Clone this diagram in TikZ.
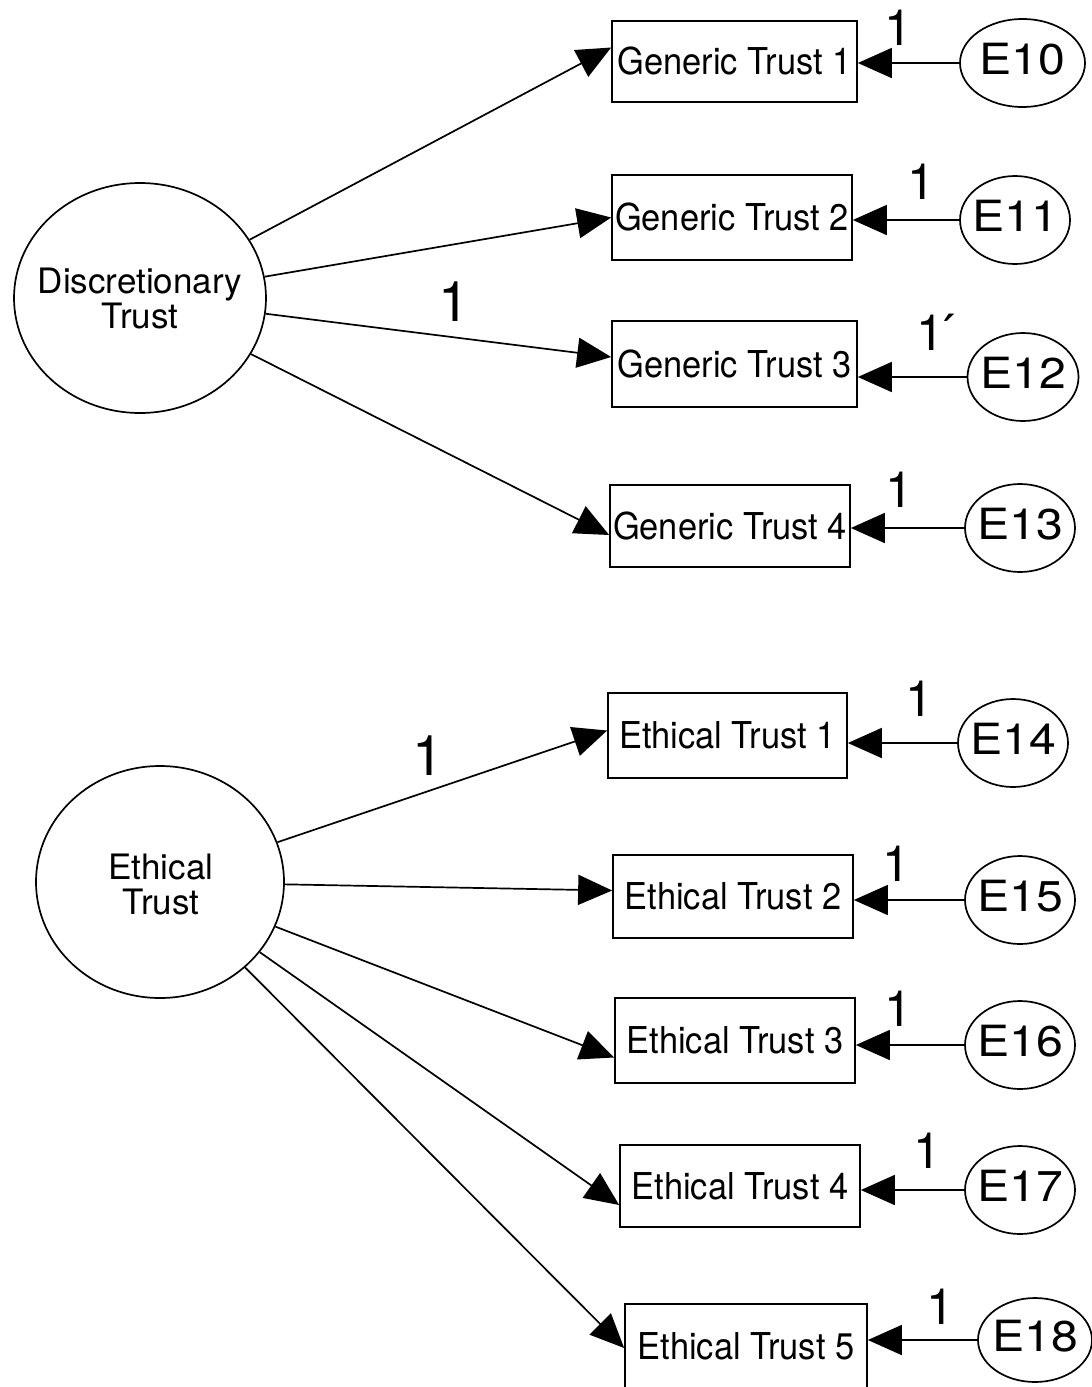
\documentclass[tikz,border=0pt]{standalone}
\usepackage{fontspec}
\usepackage{graphicx}
\setmainfont{TeX Gyre Heros}
\usetikzlibrary{shapes.geometric,arrows.meta}

% narrow and wide text for the indicator boxes and error terms
\newcommand\obstext[1]{\scalebox{0.93}[1]{#1}}
\newcommand\errtext[1]{\scalebox{1.12}[1]{#1}}

\tikzset{
  latent/.style={draw, ellipse, line width=1.7pt, inner sep=0pt},
  lattext/.style={align=center, inner sep=0pt, font=\fontsize{35}{35}\selectfont},
  obs/.style={draw, rectangle, line width=1.7pt, inner sep=0pt,
    minimum width=242pt, minimum height=84pt, font=\fontsize{37}{40}\selectfont},
  err/.style={draw, ellipse, line width=1.7pt, inner sep=0pt,
    minimum width=110pt, minimum height=88pt},
  errlab/.style={inner sep=0pt, yshift=4pt, font=\fontsize{43}{44}\selectfont},
  load/.style={line width=1.7pt, -{Triangle[length=34pt,width=30pt]}},
  one/.style={font=\fontsize{50}{52}\selectfont, inner sep=0pt},
  bigone/.style={font=\fontsize{56}{58}\selectfont, inner sep=0pt},
}

\begin{document}
\begin{tikzpicture}[x=1pt,y=-1pt]
\useasboundingbox (0,0) rectangle (1092,1387);

% latent factors
\node[latent, minimum width=252pt, minimum height=230pt] (dt) at (140,298) {};
\node[lattext] (dtname) at (dt.center) {Discretionary\\Trust};
\node[latent, minimum width=248pt, minimum height=232pt] (et) at (160,882) {};
\node[lattext] (etname) at ([xshift=1pt,yshift=-2pt]et.center) {Ethical\\Trust};

% indicators
\node[obs, minimum width=245pt, minimum height=81pt] (gt1) at (734.5,61.5) {\obstext{Generic Trust 1}};
\node[obs, minimum width=240pt, minimum height=85pt] (gt2) at (732,217.5) {\obstext{Generic Trust 2}};
\node[obs, minimum width=245pt, minimum height=86pt] (gt3) at (734.5,364) {\obstext{Generic Trust 3}};
\node[obs, minimum width=240pt, minimum height=82pt] (gt4) at (730,526) {\obstext{Generic Trust 4}};
\node[obs, minimum width=239pt, minimum height=85pt] (et1) at (727.5,735.5) {\obstext{Ethical Trust 1}};
\node[obs, minimum width=240pt, minimum height=83pt] (et2) at (733,896.5) {\obstext{Ethical Trust 2}};
\node[obs, minimum width=240pt, minimum height=85pt] (et3) at (735,1040.5) {\obstext{Ethical Trust 3}};
\node[obs, minimum width=240pt, minimum height=82pt] (et4) at (740,1186) {\obstext{Ethical Trust 4}};
\node[obs, minimum width=242pt, minimum height=84pt] (et5) at (746,1346) {\obstext{Ethical Trust 5}};

% error terms
\node[err, minimum width=125pt, label={[errlab]center:\errtext{E10}}] (e10) at (1022.5,63) {};
\node[err, label={[errlab]center:\errtext{E11}}] (e11) at (1015,220) {};
\node[err, minimum width=111pt, label={[errlab]center:\errtext{E12}}] (e12) at (1023,377) {};
\node[err, label={[errlab]center:\errtext{E13}}] (e13) at (1020,528) {};
\node[err, label={[errlab]center:\errtext{E14}}] (e14) at (1013,743) {};
\node[err, label={[errlab]center:\errtext{E15}}] (e15) at (1020,900) {};
\node[err, label={[errlab]center:\errtext{E16}}] (e16) at (1020,1045) {};
\node[err, label={[errlab]center:\errtext{E17}}] (e17) at (1020,1190) {};
\node[err, minimum width=114pt, minimum height=84pt, label={[errlab]center:\errtext{E18}}] (e18) at (1035,1340) {};

% factor loadings
\draw[load] (dt) -- ([yshift=14pt]gt1.west);
\draw[load] (dt) -- (gt2.west);
\draw[load] (dt) -- ([yshift=7pt]gt3.west);
\draw[load] (dt) -- ([yshift=-9pt]gt4.west);
\draw[load] (et) -- ([yshift=5pt]et1.west);
\draw[load] (et) -- ([yshift=6pt]et2.west);
\draw[load] (et) -- ([yshift=-17pt]et3.west);
\draw[load] (et) -- ([yshift=-19pt]et4.west);
\draw[load] (et) -- ([yshift=-2pt]et5.west);

% error paths
\foreach \e/\b in {e10/gt1,e11/gt2,e12/gt3,e13/gt4,e14/et1,e15/et2,e16/et3,e17/et4,e18/et5}
  \draw[load] (\e.west) -- (\b.east |- \e.west);

% fixed coefficients
\node[bigone] (f1) at (454,302) {1};
\node[bigone] (f2) at (428,756) {1};
\node[one] (w10) at (898,28) {1};
\node[one] (w11) at (921,182) {1};
\node[one] (w12) at (930,332) {1\rlap{\kern-6pt\textasciiacute}};
\node[one] (w13) at (899,490) {1};
\node[one] (w14) at (919,699) {1};
\node[one] (w15) at (896,864) {1};
\node[one] (w16) at (898,1009) {1};
\node[one] (w17) at (927,1151) {1};
\node[one] (w18) at (940,1307) {1};
\end{tikzpicture}
\end{document}
